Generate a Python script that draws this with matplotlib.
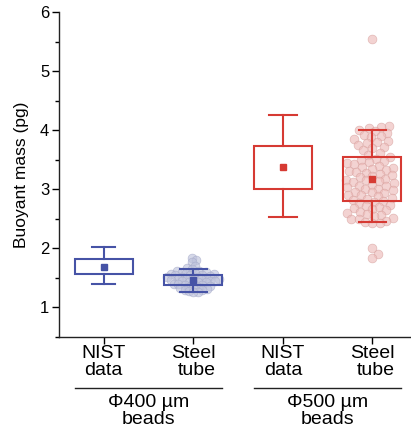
import numpy as np
import matplotlib.pyplot as plt
from matplotlib.transforms import blended_transform_factory

plt.rcParams['font.family'] = ['Liberation Sans', 'DejaVu Sans']

# box summaries: (whisker low, q1, q3, whisker high, mean)
categories = ["NIST\ndata", "Steel\ntube", "NIST\ndata", "Steel\ntube"]
whisk_lo = [1.39, 1.26, 2.53, 2.44]
q1 = [1.56, 1.37, 3.00, 2.80]
q3 = [1.82, 1.55, 3.74, 3.55]
whisk_hi = [2.02, 1.65, 4.26, 4.01]
means = [1.69, 1.46, 3.38, 3.17]

# individual steel tube measurements (pg)
steel_400 = [1.84, 1.80, 1.76, 1.70, 1.66, 1.64, 1.62, 1.61, 1.60, 1.59,
             1.58, 1.58, 1.57, 1.56, 1.55, 1.55, 1.54, 1.53, 1.52, 1.52,
             1.51, 1.50, 1.50, 1.49, 1.48, 1.48, 1.47, 1.46, 1.45, 1.45,
             1.44, 1.43, 1.42, 1.42, 1.41, 1.40, 1.39, 1.38, 1.37, 1.36,
             1.35, 1.34, 1.33, 1.32, 1.31, 1.30, 1.29, 1.27, 1.26, 1.25]
steel_500 = [5.55, 4.07, 4.05, 4.03, 4.01, 3.98, 3.95, 3.92, 3.90, 3.88,
             3.85, 3.82, 3.80, 3.78, 3.75, 3.72, 3.70, 3.66, 3.62, 3.58,
             3.55, 3.52, 3.50, 3.48, 3.46, 3.44, 3.42, 3.40, 3.38, 3.36,
             3.35, 3.33, 3.31, 3.30, 3.28, 3.26, 3.24, 3.22, 3.20, 3.18,
             3.16, 3.15, 3.14, 3.12, 3.10, 3.08, 3.06, 3.05, 3.03, 3.01,
             3.00, 2.98, 2.96, 2.95, 2.93, 2.91, 2.90, 2.88, 2.86, 2.84,
             2.82, 2.80, 2.78, 2.76, 2.74, 2.72, 2.70, 2.68, 2.66, 2.64,
             2.62, 2.60, 2.58, 2.56, 2.54, 2.52, 2.50, 2.49, 2.47, 2.45,
             2.43, 2.42, 2.00, 1.91, 1.83]
group_labels = ["\u03a6400 \u00b5m\nbeads", "\u03a6500 \u00b5m\nbeads"]

blue = "#4653a6"
red = "#d63a33"
colors = [blue, blue, red, red]
cap_w = [0.26, 0.30, 0.31, 0.31]
box_w = 0.65

W, H = 411, 434
fig = plt.figure(figsize=(W / 100, H / 100), dpi=100)
ax = fig.add_axes([59 / W, 1 - 336.7 / H, 351 / W, (336.7 - 12.3) / H])
ax.set_xlim(-0.5, 3.42)
ax.set_ylim(0.5, 6)


def swarm(values, xs_per_unit, ys_per_unit, d):
    """simple beeswarm: offsets (data units) so points don't overlap in px space"""
    placed = []
    offs = np.zeros(len(values))
    order = np.argsort(values)
    for i in order:
        y = values[i] * ys_per_unit
        cands = [0.0]
        for px, py in placed:
            dy = y - py
            if abs(dy) < d:
                dx = np.sqrt(d * d - dy * dy)
                cands += [px + dx, px - dx]
        cands.sort(key=abs)
        for c in cands:
            if all((c - px) ** 2 + (y - py) ** 2 >= d * d - 1e-6 for px, py in placed):
                placed.append((c, y))
                offs[i] = c / xs_per_unit
                break
    return offs


xpu, ypu = 89.5, 59.0
for pos, vals, fc, ec, d in [(1, steel_400, "#bfc3dc", "#a3a8c8", 4.6),
                             (3, steel_500, "#eebcba", "#d6a09d", 7.2)]:
    v = np.array(vals)
    off = swarm(v, xpu, ypu, d)
    ax.scatter(pos + off, v, s=40, facecolor=fc, edgecolor=ec, linewidth=0.5,
               alpha=0.65, zorder=1)

for i in range(4):
    c = colors[i]
    ax.add_patch(plt.Rectangle((i - box_w / 2, q1[i]), box_w, q3[i] - q1[i],
                               fill=False, edgecolor=c, lw=1.5, zorder=3))
    ax.plot([i, i], [whisk_lo[i], q1[i]], color=c, lw=1.5, zorder=3)
    ax.plot([i, i], [q3[i], whisk_hi[i]], color=c, lw=1.5, zorder=3)
    for yv in (whisk_lo[i], whisk_hi[i]):
        ax.plot([i - cap_w[i] / 2, i + cap_w[i] / 2], [yv, yv], color=c, lw=1.5, zorder=3)
    ax.plot(i, means[i], 's', color=c, ms=5, zorder=4)

ax.spines['top'].set_visible(False)
ax.spines['right'].set_visible(False)
for s in ('left', 'bottom'):
    ax.spines[s].set_linewidth(1.0)
    ax.spines[s].set_color("#222222")

ax.set_yticks([1, 2, 3, 4, 5, 6])
ax.set_yticks(np.arange(0.5, 6.01, 0.5), minor=True)
ax.tick_params(axis='y', which='major', length=5, width=1.0, labelsize=12, pad=2)
ax.tick_params(axis='y', which='minor', length=3, width=1.0)
ax.set_xticks(range(4))
ax.set_xticklabels([])
ax.tick_params(axis='x', length=5, width=1.0)
ax.set_ylabel("Buoyant mass (pg)", fontsize=12.5, labelpad=8)

tr = blended_transform_factory(ax.transData, fig.transFigure)
for i, lab in enumerate(categories):
    ax.text(i, 1 - 345 / H, lab, transform=tr, ha='center', va='top',
            fontsize=14, linespacing=0.98, multialignment='right' if i % 2 else 'center')

for g, lab in enumerate(group_labels):
    x0, x1 = 2 * g - 0.32, 2 * g + 1.32
    ax.plot([x0, x1], [1 - 388 / H] * 2, transform=tr, color="#222222",
            lw=1.0, clip_on=False)
    ax.text((x0 + x1) / 2, 1 - 394 / H, lab, transform=tr, ha='center', va='top',
            fontsize=14, linespacing=0.98)

fig.savefig("out.png", dpi=100)
